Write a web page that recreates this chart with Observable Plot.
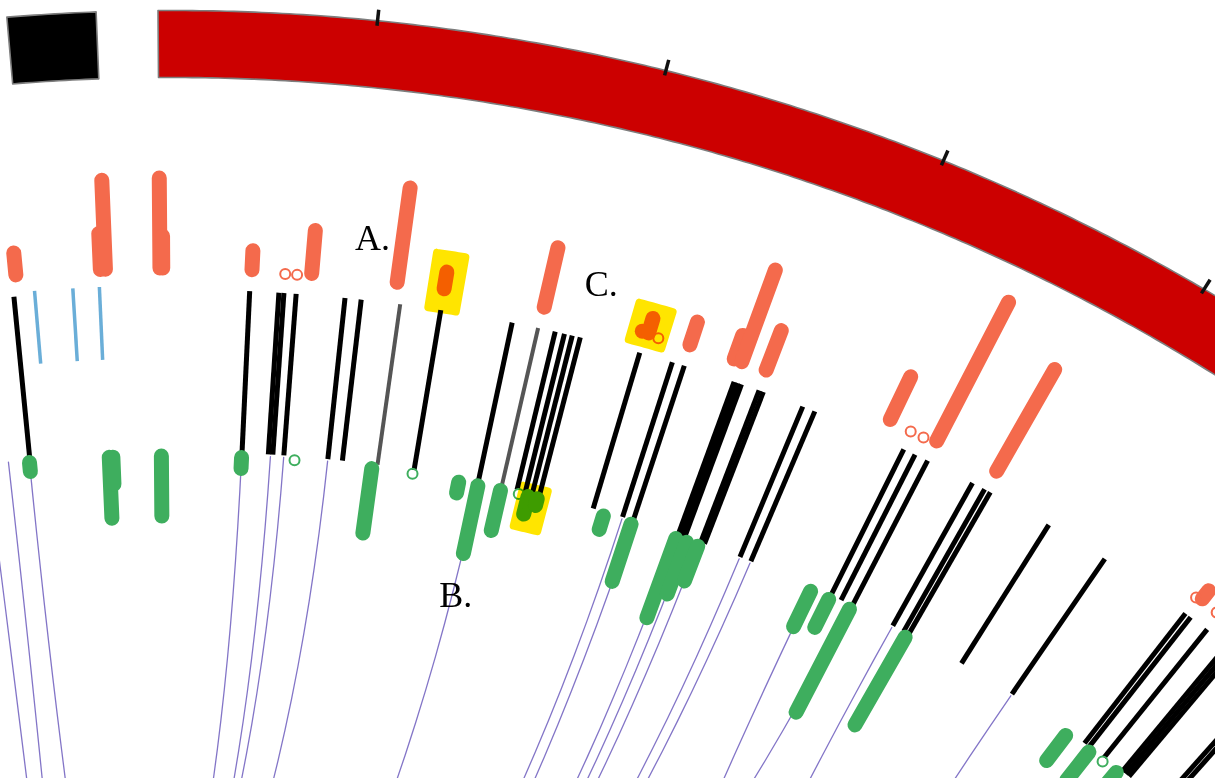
<!DOCTYPE html>
<html>
<head>
<meta charset="utf-8">
<script src="https://cdn.jsdelivr.net/npm/d3@7"></script>
<script src="https://cdn.jsdelivr.net/npm/@observablehq/plot@0.6"></script>
<style>
  html, body { margin: 0; padding: 0; background: #fff; overflow: hidden; }
  #chart svg { display: block; }
</style>
</head>
<body>
<div id="chart"></div>
<script>
// ---------------------------------------------------------------
// Data (positions in Mb)
// ---------------------------------------------------------------
// Displayed region of each chromosome
const chromosomes = [
  {chr: "chrA", start: 44.95, end: 48},
  {chr: "chrB", start: 2.5, end: 140}
];
const tickStep = 10;

// Outer histogram track: signal per locus
const upTrack = [
  {chr: "chrA", pos: 44.42, value: 3.7},
  {chr: "chrA", pos: 47.76, value: 5.1},
  {chr: "chrA", pos: 47.96, value: 10.4},
  {chr: "chrB", pos: 2.50, value: 10.5},
  {chr: "chrB", pos: 2.61, value: 4.7},
  {chr: "chrB", pos: 6.13, value: 3.4},
  {chr: "chrB", pos: 8.49, value: 5.8},
  {chr: "chrB", pos: 11.88, value: 11.0},
  {chr: "chrB", pos: 13.75, value: 3.2},
  {chr: "chrB", pos: 17.77, value: 7.6},
  {chr: "chrB", pos: 21.76, value: 1.1},
  {chr: "chrB", pos: 22.02, value: 3.0},
  {chr: "chrB", pos: 23.72, value: 3.9},
  {chr: "chrB", pos: 25.56, value: 4.0},
  {chr: "chrB", pos: 25.88, value: 11.2},
  {chr: "chrB", pos: 26.90, value: 5.7},
  {chr: "chrB", pos: 32.20, value: 6.2},
  {chr: "chrB", pos: 34.23, value: 17.0},
  {chr: "chrB", pos: 36.90, value: 13.1},
  {chr: "chrB", pos: 46.56, value: 2.5}
];
// Loci with no outer signal
const upZero = [
  {chr: "chrB", pos: 7.45}, {chr: "chrB", pos: 7.92}, {chr: "chrB", pos: 22.45},
  {chr: "chrB", pos: 33.14}, {chr: "chrB", pos: 33.70}, {chr: "chrB", pos: 46.33},
  {chr: "chrB", pos: 47.35}
];

// Inner histogram track
const downTrack = [
  {chr: "chrA", pos: 44.23, value: 2.4},
  {chr: "chrA", pos: 47.79, value: 7.6},
  {chr: "chrA", pos: 47.95, value: 4.2},
  {chr: "chrB", pos: 2.50, value: 7.5},
  {chr: "chrB", pos: 6.07, value: 2.6},
  {chr: "chrB", pos: 11.89, value: 8.0},
  {chr: "chrB", pos: 15.81, value: 2.6},
  {chr: "chrB", pos: 16.68, value: 8.4},
  {chr: "chrB", pos: 17.71, value: 5.6},
  {chr: "chrB", pos: 18.97, value: 3.3},
  {chr: "chrB", pos: 19.39, value: 2.2},
  {chr: "chrB", pos: 22.44, value: 2.9},
  {chr: "chrB", pos: 23.73, value: 7.5},
  {chr: "chrB", pos: 25.83, value: 9.9},
  {chr: "chrB", pos: 26.34, value: 7.0},
  {chr: "chrB", pos: 26.87, value: 5.2},
  {chr: "chrB", pos: 32.31, value: 5.4},
  {chr: "chrB", pos: 33.20, value: 4.6},
  {chr: "chrB", pos: 34.23, value: 13.0},
  {chr: "chrB", pos: 37.03, value: 11.5},
  {chr: "chrB", pos: 45.50, value: 4.6},
  {chr: "chrB", pos: 46.79, value: 5.0},
  {chr: "chrB", pos: 48.33, value: 10.0}
];
const downZero = [
  {chr: "chrB", pos: 8.43}, {chr: "chrB", pos: 13.72},
  {chr: "chrB", pos: 18.54}, {chr: "chrB", pos: 47.54}
];

// Middle track: breakpoint calls (quality class)
const calls = [
  {chr: "chrA", pos: 44.26, q: "high"},
  {chr: "chrB", pos: 6.08, q: "high"},
  {chr: "chrB", pos: 7.25, q: "high"}, {chr: "chrB", pos: 7.45, q: "high"},
  {chr: "chrB", pos: 7.94, q: "high"},
  {chr: "chrB", pos: 9.90, q: "high"},
  {chr: "chrB", pos: 10.55, q: "high"},
  {chr: "chrB", pos: 12.12, q: "low"},
  {chr: "chrB", pos: 13.76, q: "high"},
  {chr: "chrB", pos: 16.66, q: "high"},
  {chr: "chrB", pos: 17.72, q: "low"},
  {chr: "chrB", pos: 18.42, q: "high"}, {chr: "chrB", pos: 18.80, q: "high"},
  {chr: "chrB", pos: 19.12, q: "high"}, {chr: "chrB", pos: 19.45, q: "high"},
  {chr: "chrB", pos: 21.91, q: "high"},
  {chr: "chrB", pos: 23.27, q: "high"},
  {chr: "chrB", pos: 23.77, q: "high"},
  {chr: "chrB", pos: 25.87, q: "high"}, {chr: "chrB", pos: 26.03, q: "high"},
  {chr: "chrB", pos: 26.18, q: "high"},
  {chr: "chrB", pos: 26.93, q: "high"}, {chr: "chrB", pos: 27.11, q: "high"},
  {chr: "chrB", pos: 28.80, q: "high"},
  {chr: "chrB", pos: 29.32, q: "high"},
  {chr: "chrB", pos: 33.21, q: "high"},
  {chr: "chrB", pos: 33.71, q: "high"},
  {chr: "chrB", pos: 34.27, q: "high"},
  {chr: "chrB", pos: 36.29, q: "high"},
  {chr: "chrB", pos: 36.84, q: "high"}, {chr: "chrB", pos: 37.10, q: "high"},
  {chr: "chrB", pos: 39.80, q: "high"},
  {chr: "chrB", pos: 42.45, q: "high"},
  {chr: "chrB", pos: 46.39, q: "high"}, {chr: "chrB", pos: 46.65, q: "high"},
  {chr: "chrB", pos: 47.48, q: "high"},
  {chr: "chrB", pos: 48.51, q: "high"}, {chr: "chrB", pos: 48.70, q: "high"},
  {chr: "chrB", pos: 48.89, q: "high"},
  {chr: "chrB", pos: 50.75, q: "high"}, {chr: "chrB", pos: 50.99, q: "high"}
];

// Short inversion calls
const inversions = [
  {chr: "chrA", pos: 45.10}, {chr: "chrA", pos: 46.63}, {chr: "chrA", pos: 47.69}
];

// Links: source locus and partner angle (degrees around the circle)
const links = [
  {chr: "chrA", pos: 42.35, partner: 175},
  {chr: "chrA", pos: 43.30, partner: 180},
  {chr: "chrA", pos: 44.23, partner: 160},
  {chr: "chrB", pos: 6.07, partner: -30},
  {chr: "chrB", pos: 7.35, partner: -35},
  {chr: "chrB", pos: 7.94, partner: -45},
  {chr: "chrB", pos: 9.90, partner: -60},
  {chr: "chrB", pos: 16.68, partner: -90},
  {chr: "chrB", pos: 23.27, partner: -90},
  {chr: "chrB", pos: 23.77, partner: -100},
  {chr: "chrB", pos: 25.83, partner: -25},
  {chr: "chrB", pos: 26.34, partner: -25},
  {chr: "chrB", pos: 26.87, partner: -25},
  {chr: "chrB", pos: 28.80, partner: -30},
  {chr: "chrB", pos: 29.32, partner: -30},
  {chr: "chrB", pos: 32.31, partner: 180},
  {chr: "chrB", pos: 34.23, partner: -35},
  {chr: "chrB", pos: 36.29, partner: 180},
  {chr: "chrB", pos: 42.45, partner: 180},
  {chr: "chrB", pos: 46.79, partner: 180}
];

// Highlighted loci (extent in track units) and their letters
const highlights = [
  {id: "A", chr: "chrB", start: 13.25, end: 14.36, track: "up", lo: -1.3, hi: 4.2},
  {id: "B", chr: "chrB", start: 18.66, end: 19.76, track: "down", lo: -0.2, hi: 3.9},
  {id: "C", chr: "chrB", start: 21.34, end: 22.68, track: "up", lo: -0.4, hi: 3.4}
];
const labels = [
  {text: "A.", chr: "chrB", pos: 10.71, track: "up", value: 4.8},
  {text: "B.", chr: "chrB", pos: 16.74, track: "down", value: 11.9},
  {text: "C.", chr: "chrB", pos: 19.73, track: "up", value: 4.2}
];

// ---------------------------------------------------------------
// Circular layout
// ---------------------------------------------------------------
const W = 1215, H = 778;
const CX = 172, CY = 1915, SX = 1.04;     // circle centre and horizontal aspect
const degPerMb = 0.848, gapDeg = 1.79, firstAngle = -4.796;
const R = {
  bandIn: 1838, bandOut: 1905, tickIn: 1900, tickOut: 1916,
  callIn: 1464, callOut: 1626, invIn: 1557, invOut: 1630,
  link: 1462, upZero: 1645, downZero: 1460
};
const upR = d3.scaleLinear().domain([0, 20]).range([1640, 1840]);
const downR = d3.scaleLinear().domain([0, 20]).range([1467, 1267]);
const trackR = {up: upR, down: downR};

const angle0 = new Map();
{
  let acc = firstAngle;
  for (const c of chromosomes) {
    angle0.set(c.chr, acc - c.start * degPerMb);
    acc += (c.end - c.start) * degPerMb + gapDeg;
  }
}
const angleOf = (chr, pos) => angle0.get(chr) + pos * degPerMb;
const rad = (d) => d * Math.PI / 180;
const toXY = (deg, r) => ({x: CX + SX * r * Math.sin(rad(deg)), y: CY - r * Math.cos(rad(deg))});

function radialSeg(deg, r1, r2, extra) {
  const a = toXY(deg, r1), b = toXY(deg, r2);
  return {x1: a.x, y1: a.y, x2: b.x, y2: b.y, ...extra};
}

// Ideogram bands as closed polygons
function bandPolygon(c) {
  const a1 = angleOf(c.chr, c.start), a2 = angleOf(c.chr, c.end);
  const n = Math.max(2, Math.ceil((a2 - a1) / 0.2));
  const pts = [];
  for (let i = 0; i <= n; i++) pts.push(toXY(a1 + (a2 - a1) * i / n, R.bandOut));
  for (let i = n; i >= 0; i--) pts.push(toXY(a1 + (a2 - a1) * i / n, R.bandIn));
  pts.push(pts[0]);
  return pts;
}
const bandFill = {chrA: "#000000", chrB: "#cc0000"};

const ticks = [];
for (const c of chromosomes) {
  for (let p = Math.ceil(c.start / tickStep) * tickStep; p <= c.end; p += tickStep) {
    ticks.push(radialSeg(angleOf(c.chr, p), R.tickIn, R.tickOut));
  }
}

// Histogram bars drawn as rounded radial strokes
const barW = 15, cap = barW / 2;
const upBars = upTrack.map(d => {
  const r0 = upR(0) + cap, r1 = Math.max(r0, upR(d.value) - cap);
  return radialSeg(angleOf(d.chr, d.pos), r0, r1);
});
const downBars = downTrack.map(d => {
  const r0 = downR(0) - cap, r1 = Math.min(r0, downR(d.value) + cap);
  return radialSeg(angleOf(d.chr, d.pos), r0, r1);
});

const callSegs = calls.map(d => radialSeg(angleOf(d.chr, d.pos), R.callIn, R.callOut, {q: d.q}));
const invSegs = inversions.map(d => radialSeg(angleOf(d.chr, d.pos), R.invIn, R.invOut));
const upZeroPts = upZero.map(d => toXY(angleOf(d.chr, d.pos), R.upZero));
const downZeroPts = downZero.map(d => toXY(angleOf(d.chr, d.pos), R.downZero));

// Quadratic Bezier links through the centre
const linkPts = [];
links.forEach((l, i) => {
  const a = rad(angleOf(l.chr, l.pos)), b = rad(l.partner);
  const p0 = [R.link * Math.sin(a), R.link * Math.cos(a)];
  const p2 = [R.link * Math.sin(b), R.link * Math.cos(b)];
  for (let k = 0; k <= 80; k++) {
    const t = k / 80, w0 = (1 - t) * (1 - t), w2 = t * t;
    const u = w0 * p0[0] + w2 * p2[0], v = w0 * p0[1] + w2 * p2[1];
    linkPts.push({id: i, x: CX + SX * u, y: CY - v});
  }
});

// Highlight regions as polar rectangles
const hlPts = [];
for (const h of highlights) {
  const sc = trackR[h.track];
  const a1 = angleOf(h.chr, h.start), a2 = angleOf(h.chr, h.end);
  const rA = sc(h.lo), rB = sc(h.hi);
  const n = 8;
  const ring = [];
  for (let i = 0; i <= n; i++) ring.push(toXY(a1 + (a2 - a1) * i / n, Math.max(rA, rB)));
  for (let i = n; i >= 0; i--) ring.push(toXY(a1 + (a2 - a1) * i / n, Math.min(rA, rB)));
  ring.push(ring[0]);
  ring.forEach(p => hlPts.push({id: h.id, ...p}));
}
const labelPts = labels.map(d => ({text: d.text, ...toXY(angleOf(d.chr, d.pos), trackR[d.track](d.value))}));

// ---------------------------------------------------------------
// Plot
// ---------------------------------------------------------------
const seg = {x1: "x1", y1: "y1", x2: "x2", y2: "y2"};
const chart = Plot.plot({
  width: W,
  height: H,
  margin: 0,
  x: {domain: [0, W], range: [0, W], axis: null},
  y: {domain: [0, H], range: [0, H], axis: null},
  style: {background: "white", overflow: "hidden"},
  marks: [
    ...chromosomes.map(c => Plot.line(bandPolygon(c), {
      x: "x", y: "y", fill: bandFill[c.chr], stroke: "#7d7d7d", strokeWidth: 1.6, strokeLinejoin: "round"
    })),
    Plot.link(ticks, {...seg, stroke: "#111", strokeWidth: 3.5}),
    Plot.line(linkPts, {x: "x", y: "y", z: "id", stroke: "#7c6ec4", strokeWidth: 1.3, strokeOpacity: 0.95}),
    Plot.link(callSegs.filter(d => d.q === "high"), {...seg, stroke: "#000", strokeWidth: 5}),
    Plot.link(callSegs.filter(d => d.q === "low"), {...seg, stroke: "#555", strokeWidth: 4}),
    Plot.link(invSegs, {...seg, stroke: "#6aaed8", strokeWidth: 3.5}),
    Plot.link(upBars, {...seg, stroke: "#f46a4c", strokeWidth: barW, strokeLinecap: "round"}),
    Plot.link(downBars, {...seg, stroke: "#3eae5e", strokeWidth: barW, strokeLinecap: "round"}),
    Plot.dot(upZeroPts, {x: "x", y: "y", r: 5, stroke: "#f46a4c", strokeWidth: 2, fill: "none"}),
    Plot.dot(downZeroPts, {x: "x", y: "y", r: 5, stroke: "#3eae5e", strokeWidth: 2, fill: "none"}),
    Plot.line(hlPts, {
      x: "x", y: "y", z: "id", fill: "#ffe500", stroke: "#ffe500", strokeWidth: 8,
      strokeLinejoin: "round", mixBlendMode: "multiply"
    }),
    Plot.text(labelPts, {
      x: "x", y: "y", text: "text", fontFamily: "Liberation Serif", fontSize: 36, fill: "#000"
    })
  ]
});
document.getElementById("chart").append(chart);
</script>
</body>
</html>
